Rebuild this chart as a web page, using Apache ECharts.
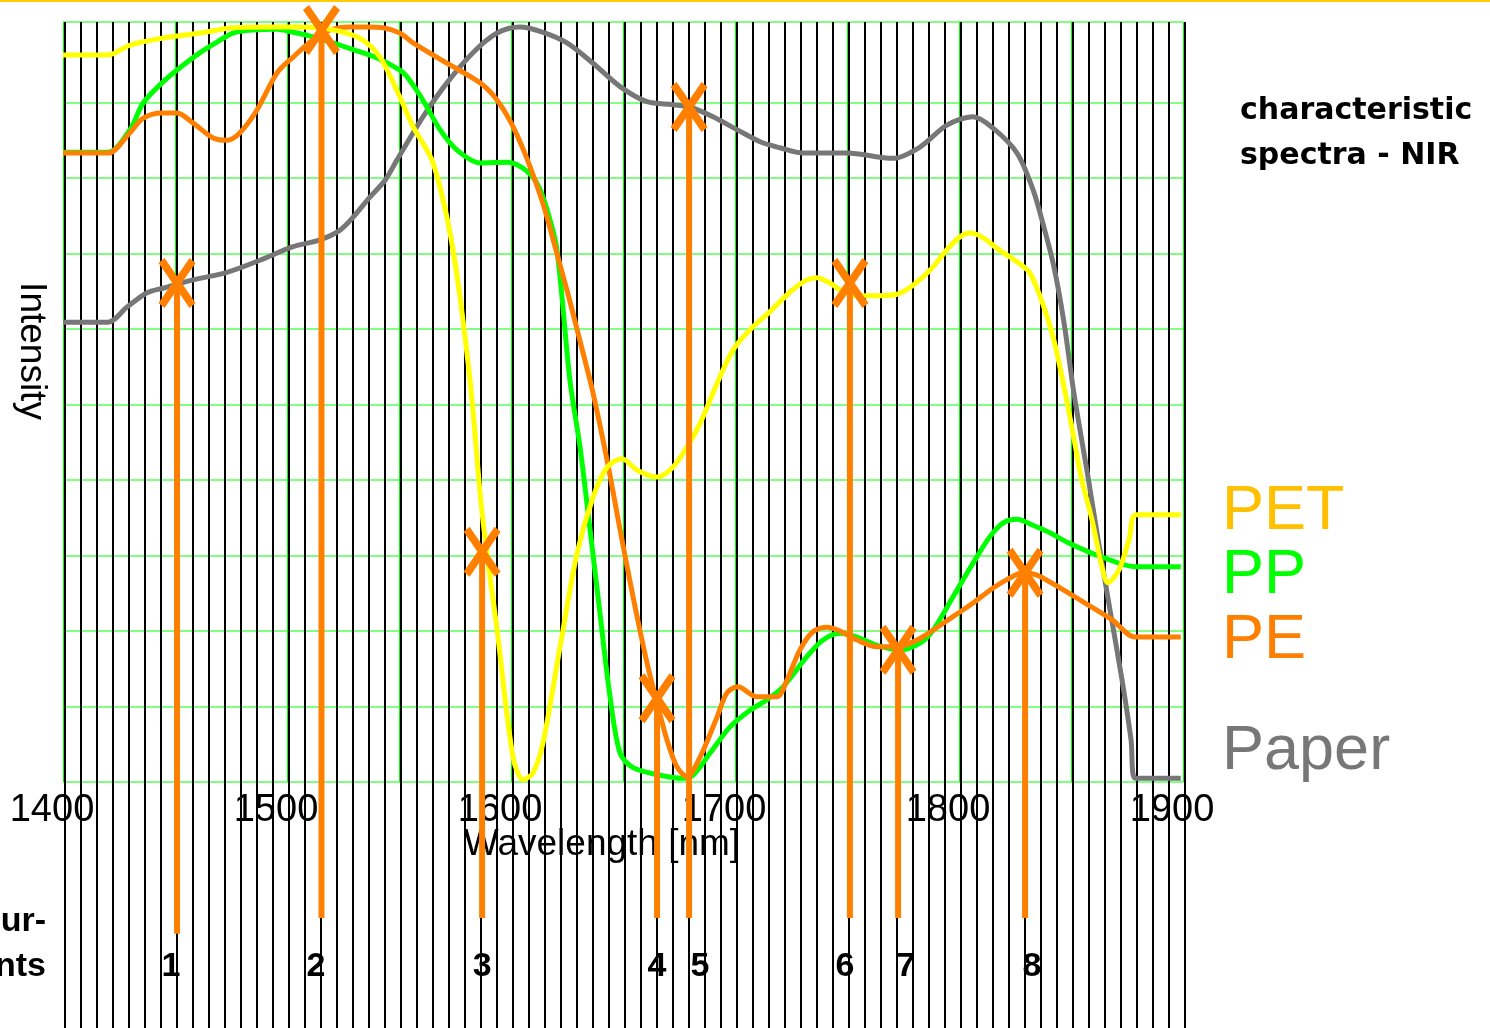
<!DOCTYPE html>
<html>
<head>
<meta charset="utf-8">
<title>characteristic spectra - NIR</title>
<script src="https://cdn.jsdelivr.net/npm/echarts@6/dist/echarts.min.js"></script>
<style>
  html, body { margin: 0; padding: 0; background: #fff; }
  #chart { width: 1490px; height: 1028px; }
</style>
</head>
<body>
<div id="chart"></div>
<script>
// spectra as [wavelength nm, intensity]
const petSpectrum = [
  [1400, 9.63], [1420.1, 9.63], [1429.9, 9.76], [1444.2, 9.85], [1461.2, 9.92], [1475.9, 9.99],
  [1492.4, 10.0], [1505.8, 10.0], [1519.2, 9.97], [1532.6, 9.85], [1541.5, 9.6], [1550.4, 9.07],
  [1556.3, 8.68], [1565.2, 8.2], [1574.1, 7.05], [1581.7, 5.32], [1587.1, 3.56], [1593.8, 2.01],
  [1600.9, 0.33], [1605.4, 0.03], [1609.8, 0.12], [1614.3, 0.52], [1621.9, 1.79], [1629.5, 3.03],
  [1636.6, 3.77], [1642.9, 4.17], [1649.6, 4.28], [1656.3, 4.13], [1665.2, 4.04], [1672.3, 4.17],
  [1678.6, 4.44], [1684.4, 4.75], [1692.0, 5.28], [1699.1, 5.72], [1706.7, 5.99], [1715.6, 6.23],
  [1724.6, 6.49], [1732.1, 6.65], [1736.6, 6.68], [1742.4, 6.61], [1746.9, 6.52], [1754.5, 6.44],
  [1763.4, 6.44], [1772.3, 6.46], [1779.5, 6.58], [1787.1, 6.78], [1794.6, 7.05], [1800.4, 7.22],
  [1804.9, 7.27], [1810.7, 7.21], [1816.9, 7.07], [1825.9, 6.89], [1831.7, 6.74], [1837.9, 6.29],
  [1842.4, 5.85], [1846.9, 5.23], [1850.9, 4.62], [1854.5, 4.04], [1859.4, 3.47], [1863.8, 2.85],
  [1866.5, 2.64], [1871.4, 2.81], [1875.9, 3.21], [1879.0, 3.54], [1899, 3.54]
]
const ppSpectrum = [
  [1400, 8.34], [1420.1, 8.34], [1429.9, 8.64], [1435.7, 8.99], [1444.2, 9.26], [1450.9, 9.43],
  [1461.2, 9.66], [1468.8, 9.8], [1475.9, 9.92], [1484.8, 9.96], [1495.5, 9.97], [1502.7, 9.93],
  [1511.6, 9.87], [1520.5, 9.79], [1529.5, 9.7], [1540.2, 9.59], [1550.4, 9.43], [1553.6, 9.34],
  [1560.7, 9.03], [1568.3, 8.64], [1575.9, 8.37], [1586.2, 8.2], [1598.2, 8.21], [1605.4, 8.13],
  [1611.6, 7.93], [1616.1, 7.58], [1620.5, 7.05], [1626.3, 5.32], [1630.8, 4.44], [1635.3, 3.34],
  [1639.7, 2.24], [1644.2, 1.13], [1648.7, 0.38], [1654.5, 0.19], [1666.5, 0.09], [1676.8, 0.05],
  [1681.3, 0.09], [1688.8, 0.38], [1697.8, 0.73], [1706.7, 0.95], [1714.3, 1.09], [1721.4, 1.26],
  [1732.1, 1.66], [1739.3, 1.88], [1746.9, 1.97], [1754.5, 1.92], [1763.4, 1.81], [1773.7, 1.75],
  [1782.6, 1.84], [1788.4, 2.01], [1797.3, 2.45], [1806.3, 2.9], [1813.8, 3.25], [1819.6, 3.43],
  [1825.9, 3.48], [1833.0, 3.4], [1840.6, 3.3], [1848.7, 3.17], [1863.8, 2.98], [1879.0, 2.85],
  [1899, 2.85]
]
const peSpectrum = [
  [1400, 8.33], [1420.1, 8.33], [1429.9, 8.6], [1435.7, 8.79], [1444.2, 8.86], [1450.9, 8.86],
  [1458.0, 8.73], [1467.0, 8.53], [1473.2, 8.5], [1479.0, 8.6], [1486.6, 8.9], [1495.5, 9.39],
  [1502.7, 9.6], [1511.6, 9.83], [1519.2, 9.96], [1528.1, 10.0], [1535.7, 10.0], [1542.9, 9.99],
  [1550.4, 9.92], [1556.3, 9.79], [1571.4, 9.52], [1586.2, 9.26], [1593.8, 9.03], [1600.9, 8.68],
  [1608.5, 8.15], [1616.1, 7.48], [1635.3, 5.32], [1642.9, 4.26], [1648.7, 3.34], [1654.5, 2.45],
  [1660.7, 1.58], [1665.2, 1.05], [1669.6, 0.56], [1674.1, 0.2], [1678.6, 0.07], [1684.4, 0.33],
  [1692.0, 0.86], [1696.4, 1.18], [1701.3, 1.26], [1709.8, 1.13], [1718.8, 1.13], [1723.2, 1.35],
  [1729.0, 1.75], [1734.8, 1.99], [1741.1, 2.05], [1746.9, 2.0], [1754.5, 1.88], [1763.4, 1.79],
  [1772.3, 1.79], [1781.3, 1.88], [1788.4, 2.01], [1797.3, 2.19], [1806.3, 2.37], [1813.8, 2.54],
  [1821.4, 2.68], [1828.6, 2.77], [1834.8, 2.74], [1841.1, 2.64], [1856.3, 2.37], [1868.3, 2.15],
  [1878.6, 1.92], [1899, 1.92]
]
const paperSpectrum = [
  [1400, 6.09], [1420.1, 6.09], [1428.6, 6.29], [1437.5, 6.48], [1444.6, 6.54], [1458.0, 6.65],
  [1473.2, 6.75], [1487.9, 6.91], [1502.7, 7.09], [1514.7, 7.18], [1523.7, 7.31], [1529.5, 7.48],
  [1537.1, 7.75], [1543.8, 7.97], [1549.1, 8.24], [1560.7, 8.81], [1571.4, 9.26], [1583.0, 9.66],
  [1593.8, 9.92], [1604.0, 10.0], [1614.3, 9.93], [1625.0, 9.79], [1636.6, 9.52], [1648.7, 9.21],
  [1660.7, 9.01], [1672.3, 8.97], [1679.9, 8.94], [1690.2, 8.81], [1700.9, 8.64], [1711.2, 8.48],
  [1720.1, 8.4], [1730.4, 8.33], [1750.0, 8.33], [1770.5, 8.26], [1782.6, 8.41], [1794.6, 8.7],
  [1806.3, 8.81], [1815.2, 8.66], [1825.9, 8.33], [1833.0, 7.85], [1837.9, 7.35], [1842.4, 6.82],
  [1846.9, 6.08], [1851.3, 5.15], [1857.6, 4.04], [1862.1, 3.21], [1867.4, 2.28], [1872.8, 1.35],
  [1876.8, 0.56], [1878.6, 0.05], [1899, 0.05]
]

// measurement points
const pointNames = ['1', '2', '3', '4', '5', '6', '7', '8']
const pointWl = [1450.9, 1515.4, 1587.1, 1665.2, 1679.5, 1751.3, 1772.8, 1829.5]
const pointVal = [6.61, 9.96, 3.05, 1.11, 8.94, 6.61, 1.75, 2.77]
const stemEnd = [-2.01, -1.8, -1.8, -1.8, -1.8, -1.8, -1.8, -1.8]
const pointLabelWl = [1448.2, 1512.9, 1587.1, 1665.2, 1684.4, 1749.1, 1776.3, 1832.6]
const pointLabelVal = -2.45

const tickLabels = [1400, 1500, 1600, 1700, 1800, 1900]

const FONT = '"Liberation Sans", Arial, sans-serif'
const xMark = 'path://M0 5 L6 0 L37 45 L31 50 Z M31 0 L37 5 L6 50 L0 45 Z'

const spectrumSeries = (name, data, color) => ({
  name,
  type: 'line',
  xAxisIndex: 0,
  yAxisIndex: 0,
  data,
  smooth: 0.3,
  symbol: 'none',
  lineStyle: { color, width: 5 },
  z: 3
})

const stems = pointWl.map((wl, i) => ({
  type: 'line',
  xAxisIndex: 0,
  yAxisIndex: 0,
  data: [[wl, pointVal[i]], [wl, stemEnd[i]]],
  symbol: 'none',
  clip: false,
  lineStyle: { color: '#ff8000', width: 6 },
  z: 5
}))

// 10 green lines + hidden one at 10 + top border
const hLineColors = Array(10).fill('#80ff80').concat(['rgba(0,0,0,0)', '#80ff80'])

const chart = echarts.init(document.getElementById('chart'))

const option = {
  animation: false,
  backgroundColor: '#fff',
  grid: [
    { left: 63, right: 307, top: 22, height: 760, outerBoundsMode: 'none' },
    { left: 65, right: 305, top: 22, bottom: 0, outerBoundsMode: 'none' }
  ],
  xAxis: [
    {
      gridIndex: 0,
      type: 'value',
      min: 1400,
      max: 1900,
      interval: 50,
      axisLine: { show: false },
      axisTick: { show: false },
      splitLine: { show: true, lineStyle: { color: '#00ff00', width: 1 } },
      axisLabel: {
        show: true,
        formatter: v => (tickLabels.includes(v) ? String(v) : ''),
        fontFamily: FONT,
        fontSize: 38,
        color: '#000',
        margin: 10,
        padding: [0, 22, 0, 0],
        showMinLabel: true,
        showMaxLabel: true
      }
    },
    {
      gridIndex: 1,
      type: 'value',
      min: 0,
      max: 70,
      interval: 1,
      axisLine: { show: false },
      axisTick: { show: false },
      axisLabel: { show: false },
      splitLine: { show: true, lineStyle: { color: '#000', width: 2 } }
    }
  ],
  yAxis: [
    {
      gridIndex: 0,
      type: 'value',
      min: 0,
      max: 10.066,
      interval: 1,
      axisLine: { show: false },
      axisTick: { show: false },
      axisLabel: { show: false },
      splitLine: { show: true, lineStyle: { color: hLineColors, width: 2 } }
    },
    {
      gridIndex: 1,
      type: 'value',
      min: 0,
      max: 1,
      show: false,
      splitLine: { show: false }
    }
  ],
  series: [
    spectrumSeries('Paper', paperSpectrum, '#777777'),
    spectrumSeries('PP', ppSpectrum, '#00ff00'),
    spectrumSeries('PE', peSpectrum, '#ff8000'),
    spectrumSeries('PET', petSpectrum, '#ffff00'),
    ...stems,
    {
      type: 'scatter',
      xAxisIndex: 0,
      yAxisIndex: 0,
      data: pointWl.map((wl, i) => [wl, pointVal[i]]),
      symbol: xMark,
      symbolSize: [37, 50],
      clip: false,
      itemStyle: { color: '#ff8000', opacity: 1 },
      z: 6
    },
    {
      type: 'scatter',
      xAxisIndex: 0,
      yAxisIndex: 0,
      data: pointLabelWl.map((wl, i) => ({ name: pointNames[i], value: [wl, pointLabelVal] })),
      symbolSize: 0,
      clip: false,
      itemStyle: { opacity: 1 },
      label: {
        show: true,
        position: 'inside',
        formatter: p => p.name,
        fontFamily: FONT,
        fontSize: 34,
        fontWeight: 'bold',
        color: '#000',
        opacity: 1
      },
      z: 6
    }
  ],
  graphic: [
    { type: 'rect', x: 0, y: 0, shape: { width: 1490, height: 2 }, style: { fill: '#ffcc00' }, z: 10 },
    {
      type: 'text', x: 31, y: 351, rotation: -Math.PI / 2,
      style: { text: 'Intensity', font: '37px ' + FONT, fill: '#000', align: 'center', verticalAlign: 'middle' }
    },
    {
      type: 'text', x: 602, y: 845,
      style: { text: 'Wavelength [nm]', font: '37px ' + FONT, fill: '#000', align: 'center', verticalAlign: 'middle' }
    },
    {
      type: 'text', x: 1240, y: 89,
      style: {
        text: 'characteristic\nspectra - NIR', font: 'bold 30px "DejaVu Sans", sans-serif',
        lineHeight: 45, fill: '#000', align: 'left', verticalAlign: 'top'
      }
    },
    { type: 'text', x: 1222, y: 512, style: { text: 'PET', font: '63px ' + FONT, fill: '#ffc000', verticalAlign: 'middle' } },
    { type: 'text', x: 1222, y: 576, style: { text: 'PP', font: '63px ' + FONT, fill: '#00ff00', verticalAlign: 'middle' } },
    { type: 'text', x: 1222, y: 641, style: { text: 'PE', font: '63px ' + FONT, fill: '#ff8000', verticalAlign: 'middle' } },
    { type: 'text', x: 1222, y: 752, style: { text: 'Paper', font: '63px ' + FONT, fill: '#777777', verticalAlign: 'middle' } },
    {
      type: 'text', x: 46, y: 944,
      style: {
        text: 'Measur-\nements', font: 'bold 34px ' + FONT, lineHeight: 45,
        fill: '#000', align: 'right', verticalAlign: 'middle'
      }
    }
  ]
}

chart.setOption(option)
</script>
</body>
</html>
